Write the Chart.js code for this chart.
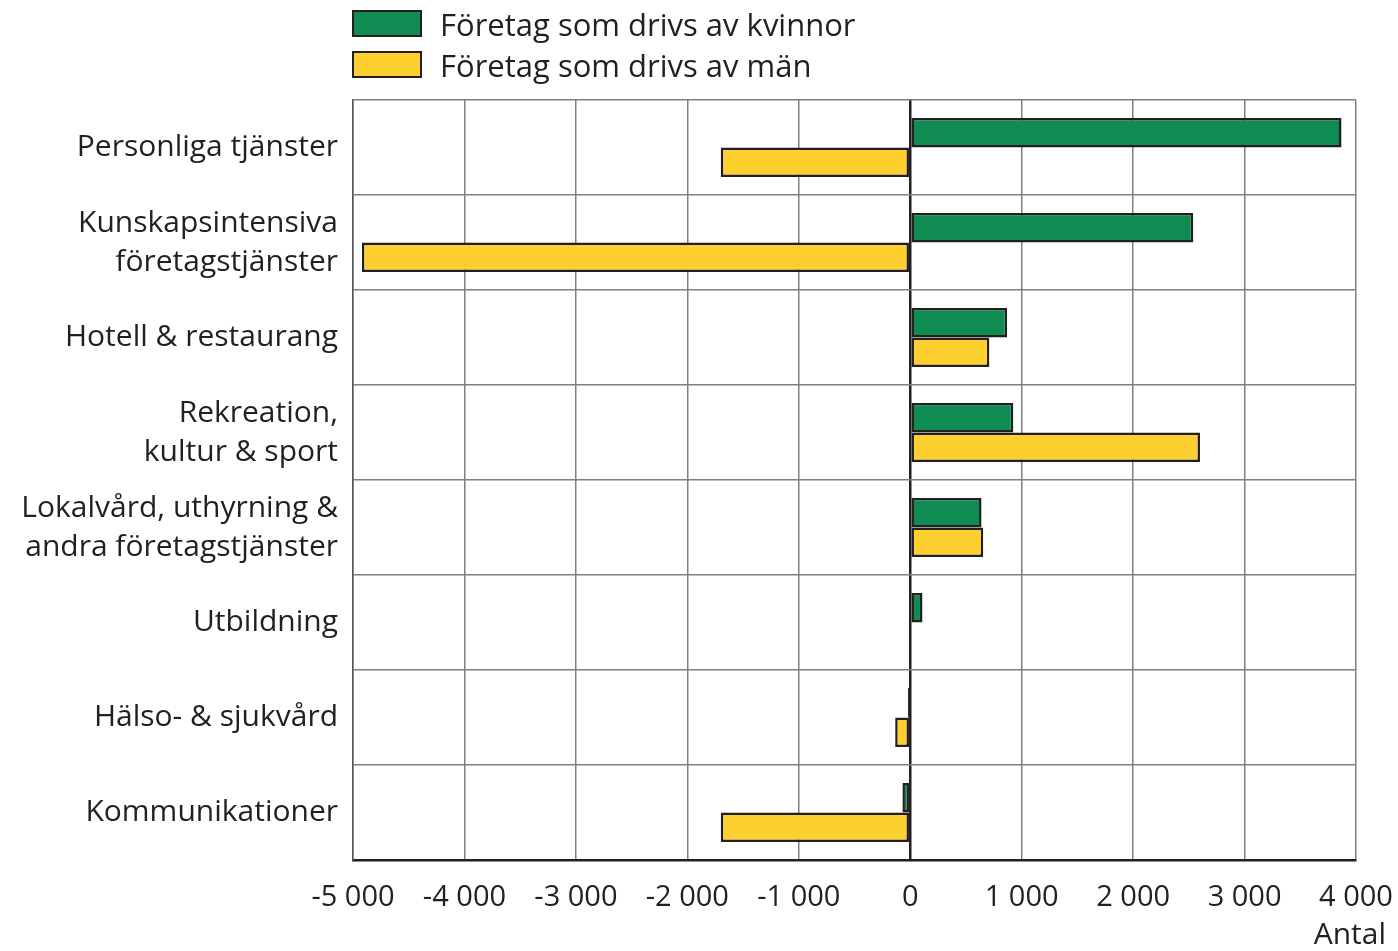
<!DOCTYPE html>
<html lang="sv">
<head>
    <meta charset="UTF-8">
    <title>Företag som drivs av kvinnor och män</title>
    <script src="https://cdn.jsdelivr.net/npm/chart.js"></script>
    <style>
        body {
            margin: 0;
            background: #fff;
            font-family: 'Open Sans', sans-serif;
            color: #231f20;
        }
        .wrap {
            position: relative;
            width: 1398px;
            height: 951px;
        }
        .legend {
            position: absolute;
            left: 352px;
            top: 3px;
            font-size: 31px;
        }
        .legend div {
            display: flex;
            align-items: center;
            height: 41px;
        }
        .legend span.box {
            display: inline-block;
            width: 66px;
            height: 23px;
            border: 2px solid #231f20;
            margin-right: 18px;
        }
        .unit {
            position: absolute;
            right: 12px;
            top: 912px;
            font-size: 30px;
        }
    </style>
</head>
<body>
<div class="wrap">
    <canvas id="chart" width="1398" height="951"></canvas>
    <div class="legend" id="legend"></div>
    <div class="unit">Antal</div>
</div>
<script>
    const categories = [
        'Personliga tjänster',
        ['Kunskapsintensiva', 'företagstjänster'],
        'Hotell & restaurang',
        ['Rekreation,', 'kultur & sport'],
        ['Lokalvård, uthyrning &', 'andra företagstjänster'],
        'Utbildning',
        'Hälso- & sjukvård',
        'Kommunikationer'
    ];
    const seriesNames = ['Företag som drivs av kvinnor', 'Företag som drivs av män'];
    const women = [3870, 2540, 870, 925, 640, 110, -20, -70];
    const men = [-1700, -4920, 710, 2600, 655, 0, -135, -1700];
    const xTicks = [-5000, -4000, -3000, -2000, -1000, 0, 1000, 2000, 3000, 4000];

    const colors = ['#0f8c52', '#fdd02f'];
    const ink = '#231f20';

    // legend
    const legend = document.getElementById('legend');
    seriesNames.forEach((name, i) => {
        const row = document.createElement('div');
        row.innerHTML = '<span class="box" style="background:' + colors[i] + '"></span>' + name;
        legend.appendChild(row);
    });

    function fmt(v) {
        const s = Math.abs(v).toString().replace(/\B(?=(\d{3})+(?!\d))/g, ' ');
        return (v < 0 ? '-' : '') + s;
    }

    Chart.defaults.font.family = "'Open Sans', sans-serif";
    Chart.defaults.color = ink;

    new Chart(document.getElementById('chart'), {
        type: 'bar',
        data: {
            labels: categories,
            datasets: [
                { label: seriesNames[0], data: women, backgroundColor: colors[0], borderColor: ink, borderWidth: 2.5, borderSkipped: false },
                { label: seriesNames[1], data: men, backgroundColor: colors[1], borderColor: ink, borderWidth: 2.5, borderSkipped: false }
            ]
        },
        options: {
            indexAxis: 'y',
            responsive: false,
            animation: false,
            layout: { padding: { top: 100, right: 42, left: 0, bottom: 0 } },
            datasets: {
                bar: { categoryPercentage: 0.62, barPercentage: 1.0 }
            },
            plugins: {
                legend: { display: false },
                tooltip: { enabled: false }
            },
            scales: {
                x: {
                    min: -5000,
                    max: 4000,
                    afterBuildTicks: scale => {
                        scale.ticks = xTicks.map(v => ({ value: v }));
                    },
                    afterFit: scale => {
                        scale.height = 91;
                        scale.paddingLeft = 0;
                        scale.paddingRight = 0;
                    },
                    ticks: {
                        callback: v => fmt(v),
                        font: { size: 29 },
                        padding: 20,
                        maxRotation: 0
                    },
                    grid: {
                        color: ctx => ctx.tick && ctx.tick.value === 0 ? ink : '#808080',
                        lineWidth: ctx => ctx.tick && ctx.tick.value === 0 ? 2.5 : 1.5,
                        drawTicks: false
                    },
                    border: { color: ink, width: 2.5 }
                },
                y: {
                    afterFit: scale => {
                        scale.width = 353;
                        scale.paddingTop = 0;
                        scale.paddingBottom = 0;
                    },
                    ticks: {
                        font: { size: 30, lineHeight: 1.3 },
                        padding: 15
                    },
                    grid: {
                        color: '#808080',
                        lineWidth: 1.5,
                        drawTicks: false,
                        offset: true
                    },
                    border: { color: '#555', width: 1.5 }
                }
            }
        }
    });
</script>
</body>
</html>
